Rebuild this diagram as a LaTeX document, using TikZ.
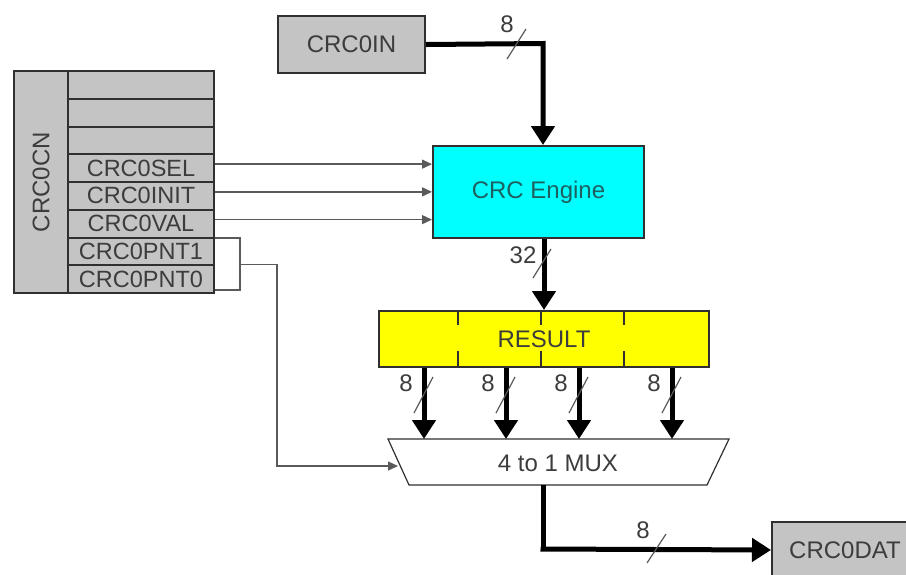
\documentclass[tikz,border=0pt]{standalone}
\usepackage{fontspec}
\setmainfont{Liberation Sans}
\usetikzlibrary{arrows.meta,calc}
\definecolor{edgec}{HTML}{303030}
\definecolor{txtc}{HTML}{3C3C3C}
\definecolor{regc}{HTML}{C4C4C4}
\definecolor{wirec}{HTML}{5A5A5A}
\definecolor{engc}{HTML}{00FFFF}
\definecolor{engtxt}{HTML}{1E5F5F}
\definecolor{resc}{HTML}{FFFF00}
\begin{document}
\begin{tikzpicture}[x=1pt,y=-1pt,
  font=\fontsize{24}{27}\selectfont, text=txtc,
  box/.style={draw=edgec, line width=2pt, fill=regc, inner sep=0pt, anchor=north west},
  regrow/.style={box, minimum width=146pt, minimum height=27.75pt, font=\fontsize{23.5}{25}\selectfont},
  bus/.style={draw=black, line width=5pt, -{Triangle[length=19pt,width=23pt]}},
  busplain/.style={draw=black, line width=5pt},
  wire/.style={draw=wirec, line width=1.3pt, -{Triangle[length=10pt,width=9pt]}},
  wireplain/.style={draw=wirec, line width=1.3pt},
  slash/.style={draw=wirec, line width=1.2pt},
  buslabel/.style={inner sep=0pt, text=txtc}
]
\useasboundingbox (0,0) rectangle (906,574);
\fill[white] (0,0) rectangle (906,574);

% register block CRC0CN
\node[box, minimum width=54pt, minimum height=222pt] (cn) at (13,70) {};
\node[rotate=90, text=txtc] at (cn.center) {CRC0CN};
\node[regrow] (r1) at (67,70) {};
\node[regrow] (r2) at (67,97.75) {};
\node[regrow] (r3) at (67,125.5) {};
\node[regrow] (sel) at (67,153.25) {CRC0SEL};
\node[regrow] (init) at (67,181) {CRC0INIT};
\node[regrow] (val) at (67,208.75) {CRC0VAL};
\node[regrow] (pnt1) at (67,236.5) {CRC0PNT1};
\node[regrow] (pnt0) at (67,264.25) {CRC0PNT0};

% CRC0IN
\node[box, minimum width=147pt, minimum height=57pt] (crcin) at (277,15) {CRC0IN};
% CRC Engine
\node[box, fill=engc, text=engtxt, minimum width=211pt, minimum height=92pt] (engine) at (432,145) {CRC Engine};
% RESULT
\node[box, fill=resc, minimum width=330pt, minimum height=56pt] (result) at (378,310) {RESULT};
\foreach \xx in {458,541,624} {
  \draw[edgec, line width=2pt] (\xx,310) -- (\xx,325) (\xx,351) -- (\xx,366);
}
% CRC0DAT
\node[box, minimum width=146pt, minimum height=56pt] (crcdat) at (771,521) {CRC0DAT};

% MUX
\coordinate (mtl) at (388,439);
\coordinate (mtr) at (729,439);
\coordinate (mbr) at (707,485);
\coordinate (mbl) at (409,485);
\draw[edgec, line width=1.2pt, fill=white] (mtl) -- (mtr) -- (mbr) -- (mbl) -- cycle;
\node (mux) at (558,463) {4 to 1 MUX};
\coordinate (min1) at (424,439);
\coordinate (min2) at (506,439);
\coordinate (min3) at (579,439);
\coordinate (min4) at (672,439);
\coordinate (msel) at (398,466);
\coordinate (mout) at (543,485);

% control wires into engine
\coordinate (s1) at ($(sel.east)+(0,-4)$);
\coordinate (s2) at ($(init.east)+(0,-4)$);
\coordinate (s3) at ($(val.east)+(0,-4)$);
\draw[wire] (s1) -- (s1 -| engine.west);
\draw[wire] (s2) -- (s2 -| engine.west);
\draw[wire] (s3) -- (s3 -| engine.west);

% bracket for pointer bits
\coordinate (bt) at (240,238);
\coordinate (bb) at (240,290);
\coordinate (bm) at (240,264.25);
\coordinate (bk) at (277,264.25);
\coordinate (bd) at (277,466);
\draw[wireplain] (pnt1.north east |- bt) -- (bt) -- (bb) -- (pnt0.south east |- bb);
\draw[wire] (bm) -- (bk) -- (bd) -- (msel);

% CRC0IN bus
\coordinate (inbend) at (543,43.5);
\draw[bus] (crcin.east) -- (inbend) -- (inbend |- engine.north);
\node[buslabel] at (507,24) {8};
\draw[slash] (507,59) -- (526,29);

% engine to result
\draw[bus] (engine.south -| result.north) -- (result.north);
\node[buslabel] at (523,255) {32};
\draw[slash] (533,278) -- (551,249);

% result to mux
\foreach \c/\xx in {min1/424,min2/506,min3/579,min4/672} {
  \draw[bus] (\c |- result.south) -- (\c);
  \node[buslabel] at (\xx-18,383) {8};
  \draw[slash] (\xx-10,413) -- (\xx+9,377);
}

% mux to CRC0DAT
\coordinate (outbend) at (543,549);
\draw[busplain] (mout) -- (outbend);
\draw[bus] ([xshift=-2.5pt]outbend) -- (crcdat.west);
\node[buslabel] at (643,530) {8};
\draw[slash] (647,563) -- (666,534);
\end{tikzpicture}
\end{document}
